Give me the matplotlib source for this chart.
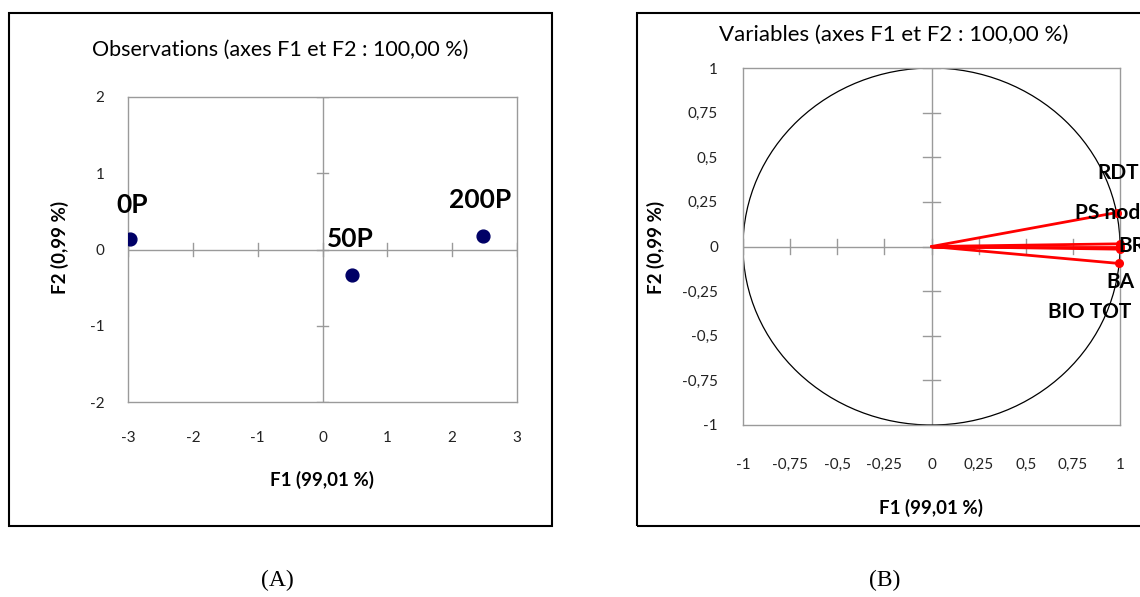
import matplotlib.pyplot as plt
from matplotlib.patches import Circle, Rectangle

# PCA results
obs_names = ['0P', '50P', '200P']
obs_f1 = [-2.97, 0.46, 2.47]
obs_f2 = [0.14, -0.33, 0.18]

var_names = ['RDT', 'PS nod', 'BR', 'BA', 'BIO TOT']
var_f1 = [0.999, 0.982, 1.0, 0.995, 0.999]
var_f2 = [0.015, 0.19, 0.0, -0.095, -0.015]

obs_xticks = [-3, -2, -1, 0, 1, 2, 3]
obs_yticks = [-2, -1, 0, 1, 2]
var_ticks = [-1, -0.75, -0.5, -0.25, 0, 0.25, 0.5, 0.75, 1]

W, H = 1140, 597
FONT = 'Lato'
GRAY = '#9a9a9a'


def fx(px):
    return px / W


def fy(py):
    return 1 - py / H


def fmt(v):
    return ('%g' % v).replace('.', ',')


def style_axes(ax, xt, yt, xpad, ypad, dx, dy):
    for s in ax.spines.values():
        s.set_color(GRAY)
        s.set_linewidth(1)
    ax.axhline(0, color=GRAY, lw=1, zorder=1)
    ax.axvline(0, color=GRAY, lw=1, zorder=1)
    # small cross ticks on the zero lines
    for t in xt:
        ax.plot([t, t], [-dy, dy], color=GRAY, lw=1, zorder=1)
    for t in yt:
        ax.plot([-dx, dx], [t, t], color=GRAY, lw=1, zorder=1)
    ax.set_xticks(xt)
    ax.set_yticks(yt)
    ax.set_xticklabels([fmt(t) for t in xt], fontfamily=FONT, fontsize=11)
    ax.set_yticklabels([fmt(t) for t in yt], fontfamily=FONT, fontsize=11)
    ax.tick_params(axis='x', length=0, pad=xpad, colors='#222222')
    ax.tick_params(axis='y', length=0, pad=ypad, colors='#222222')
    ax.set_xlim(xt[0], xt[-1])
    ax.set_ylim(yt[0], yt[-1])


fig = plt.figure(figsize=(11.4, 5.97), dpi=100)

# outer frames
fig.patches.append(Rectangle((fx(9), fy(526)), fx(543), 513 / H, transform=fig.transFigure,
                             fill=False, ec='black', lw=1.5))
fig.patches.append(Rectangle((fx(637), fy(526)), fx(560), 513 / H, transform=fig.transFigure,
                             fill=False, ec='black', lw=1.5))

# (A) observations
ax1 = fig.add_axes([fx(128), fy(402), fx(389), 305 / H])
style_axes(ax1, obs_xticks, obs_yticks, 21, 17, 0.09, 0.08)
ax1.scatter(obs_f1, obs_f2, s=85, color='#000066', zorder=3)
obs_offsets = [(-10, 24), (-18, 26), (-24, 26)]
for name, x, y, off in zip(obs_names, obs_f1, obs_f2, obs_offsets):
    ax1.annotate(name, (x, y), xytext=off, textcoords='offset points', ha='left', va='center',
                 fontsize=19, fontweight='bold', fontfamily=FONT, annotation_clip=False)
fig.text(fx(280), fy(50), 'Observations (axes F1 et F2 : 100,00 %)', ha='center', va='center',
         fontsize=15.5, fontfamily=FONT)
fig.text(fx(322), fy(480), 'F1 (99,01 %)', ha='center', va='center', fontsize=13.5,
         fontweight='bold', fontfamily=FONT)
fig.text(fx(60), fy(247), 'F2 (0,99 %)', ha='center', va='center', rotation=90, fontsize=13.5,
         fontweight='bold', fontfamily=FONT)

# (B) variables
ax2 = fig.add_axes([fx(743), fy(425), fx(377), 357 / H])
style_axes(ax2, var_ticks, var_ticks, 24, 18, 0.045, 0.04)
ax2.add_patch(Circle((0, 0), 1, fill=False, ec='black', lw=0.9, zorder=2))
for x, y in zip(var_f1, var_f2):
    ax2.plot([0, x], [0, y], color='red', lw=2, zorder=3, solid_capstyle='round')
ax2.scatter(var_f1, var_f2, s=30, color='red', zorder=4, clip_on=False)
var_offsets = [(-16, 51), (-30, 0), (-1, 0), (-9, -13), (-52, -45)]
for name, x, y, off in zip(var_names, var_f1, var_f2, var_offsets):
    ax2.annotate(name, (x, y), xytext=off, textcoords='offset points', ha='left', va='center',
                 fontsize=15, fontweight='bold', fontfamily=FONT, annotation_clip=False, zorder=5)
fig.text(fx(894), fy(35), 'Variables (axes F1 et F2 : 100,00 %)', ha='center', va='center',
         fontsize=16, fontfamily=FONT)
fig.text(fx(931), fy(508), 'F1 (99,01 %)', ha='center', va='center', fontsize=13.5,
         fontweight='bold', fontfamily=FONT)
fig.text(fx(656), fy(247), 'F2 (0,99 %)', ha='center', va='center', rotation=90, fontsize=13.5,
         fontweight='bold', fontfamily=FONT)

# captions
fig.text(fx(277), fy(580), '(A)', ha='center', va='center', fontsize=17, fontfamily='Liberation Serif')
fig.text(fx(885), fy(580), '(B)', ha='center', va='center', fontsize=17, fontfamily='Liberation Serif')

fig.savefig('out.png', dpi=100)
